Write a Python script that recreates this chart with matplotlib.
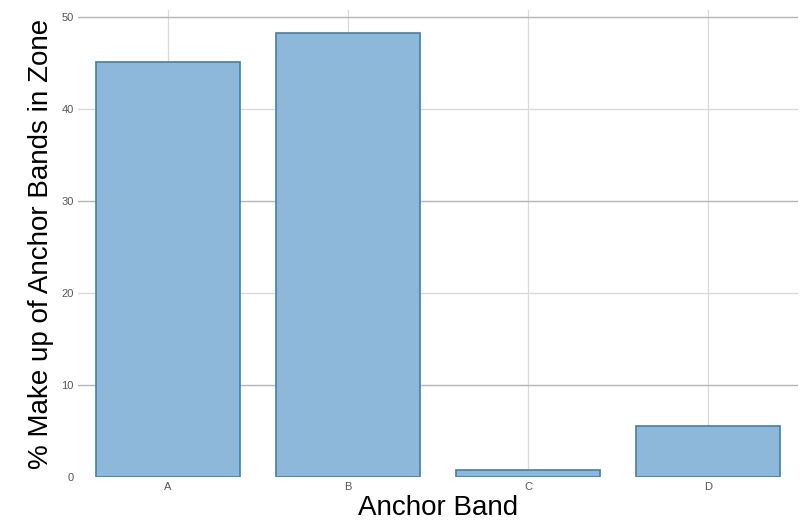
import matplotlib
matplotlib.use("Agg")
import matplotlib.pyplot as plt
import numpy as np

plt.rcParams["font.family"] = ["Liberation Sans", "DejaVu Sans"]

categories = ["A", "B", "C", "D"]
percent = [45.2, 48.3, 0.8, 5.6]
yticks = [0, 10, 20, 30, 40, 50]

fig = plt.figure(figsize=(8.11, 5.29), dpi=100)
ax = fig.add_axes([0.096, 0.098, 0.888, 0.883])

x = np.arange(len(categories))
ax.bar(x, percent, width=0.8, color="#8db8d9", edgecolor="#3f7fb0",
       linewidth=1.2, zorder=3)

ax.set_xlim(-0.5, 3.5)
ax.set_ylim(0, 50.8)
ax.set_xticks(x)
ax.set_xticklabels(categories)
ax.set_yticks(yticks)

# vertical grid at categories, horizontal grid alternating shade
for xi in x:
    ax.axvline(xi, color="#d9d9d9", linewidth=0.9, zorder=1)
for i, yv in enumerate(yticks[1:]):
    col = "#b5b5b5" if i % 2 == 0 else "#d9d9d9"
    ax.axhline(yv, color=col, linewidth=1.0, zorder=1)

for s in ax.spines.values():
    s.set_visible(False)
ax.tick_params(axis="both", length=0, labelsize=8, labelcolor="#555555")
ax.tick_params(axis="y", pad=3)

ax.set_xlabel("Anchor Band", fontsize=20, labelpad=2)
ax.set_ylabel("% Make up of Anchor Bands in Zone", fontsize=20, labelpad=5)

fig.savefig("out.png", dpi=100)
